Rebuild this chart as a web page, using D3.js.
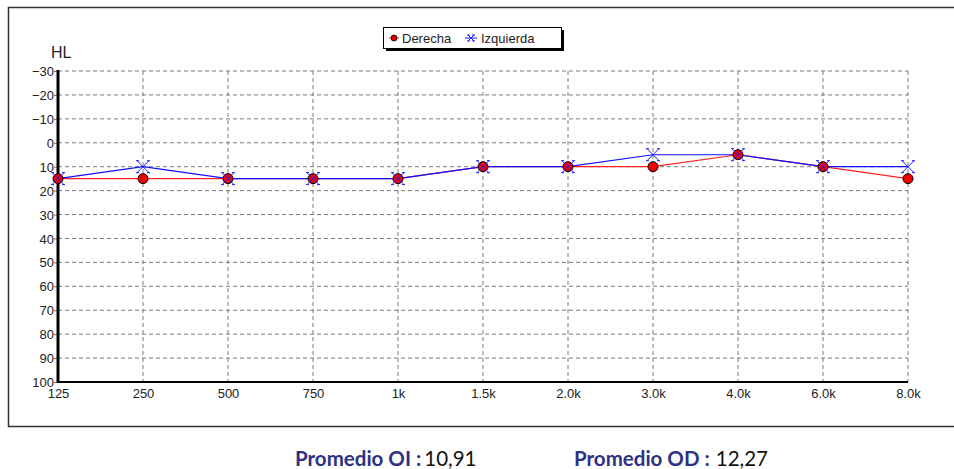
<!DOCTYPE html>
<html>
<head>
<meta charset="utf-8">
<script src="https://cdn.jsdelivr.net/npm/d3@7"></script>
<style>
body { margin: 0; background: #fff; }
svg text { font-family: "Liberation Sans", Arial, sans-serif; }
.tick-label { font-size: 13px; fill: #222; }
.footer { font-family: Lato, "Open Sans", sans-serif; font-size: 20.5px; }
</style>
</head>
<body>
<svg id="chart" width="954" height="469"></svg>
<script>
const freqs = ["125", "250", "500", "750", "1k", "1.5k", "2.0k", "3.0k", "4.0k", "6.0k", "8.0k"]
const derecha = [15, 15, 15, 15, 15, 10, 10, 10, 5, 10, 15]
const izquierda = [15, 10, 15, 15, 15, 10, 10, 5, 5, 10, 10]
const yTicks = [-30, -20, -10, 0, 10, 20, 30, 40, 50, 60, 70, 80, 90, 100]

const svg = d3.select("#chart")

// outer frame, runs off the right edge
svg.append("rect")
	.attr("x", 8.5).attr("y", 7.5)
	.attr("width", 960).attr("height", 419)
	.attr("fill", "none").attr("stroke", "#333").attr("stroke-width", 1.5)

let x = d3.scalePoint()
	.domain(freqs)
	.range([58, 908])

let y = d3.scaleLinear()
	.domain([-30, 100])
	.range([71, 382])

// grid
svg.append("g").selectAll("line")
	.data(yTicks)
	.enter()
	.append("line")
		.attr("x1", 58).attr("x2", 908)
		.attr("y1", d => y(d)).attr("y2", d => y(d))
		.attr("stroke", "#7a7a7a").attr("stroke-dasharray", "4,3")

svg.append("g").selectAll("line")
	.data(freqs.slice(1))
	.enter()
	.append("line")
		.attr("x1", d => x(d)).attr("x2", d => x(d))
		.attr("y1", 71).attr("y2", 382)
		.attr("stroke", "#7a7a7a").attr("stroke-dasharray", "4,3")

// axes
let yAxis = d3.axisLeft(y).tickValues(yTicks).tickSizeInner(4).tickSizeOuter(0)
let yG = svg.append("g")
	.attr("transform", "translate(58,0)")
	.call(yAxis)
yG.select(".domain").remove()
yG.selectAll("line").attr("stroke", "#7a7a7a")
yG.selectAll("text").attr("class", "tick-label").attr("x", -4).attr("dy", "0.35em")
	.attr("font-size", null).attr("font-family", null)

let xAxis = d3.axisBottom(x).tickSizeInner(0).tickSizeOuter(0)
let xG = svg.append("g")
	.attr("transform", "translate(0,382)")
	.call(xAxis)
xG.select(".domain").remove()
xG.selectAll("text").attr("class", "tick-label").attr("y", 7).attr("dy", "0.71em")
	.attr("font-size", null).attr("font-family", null)

svg.append("line")
	.attr("x1", 57).attr("x2", 908).attr("y1", 382).attr("y2", 382)
	.attr("stroke", "#000").attr("stroke-width", 2)
svg.append("line")
	.attr("x1", 58).attr("x2", 58).attr("y1", 70).attr("y2", 383)
	.attr("stroke", "#000").attr("stroke-width", 3)

svg.append("text")
	.attr("x", 51).attr("y", 58)
	.attr("font-size", 16).attr("fill", "#222")
	.text("HL")

// lines
let line = d3.line()
	.x((d, i) => x(freqs[i]))
	.y(d => y(d))

svg.append("path")
	.datum(derecha)
	.attr("d", line)
	.attr("fill", "none").attr("stroke", "#ff2020").attr("stroke-width", 1.2)

svg.append("path")
	.datum(izquierda)
	.attr("d", line)
	.attr("fill", "none").attr("stroke", "#1010ff").attr("stroke-width", 1.2)

svg.append("g").selectAll("circle")
	.data(derecha)
	.enter()
	.append("circle")
		.attr("cx", (d, i) => x(freqs[i]))
		.attr("cy", d => y(d))
		.attr("r", 5)
		.attr("fill", "#f00000").attr("stroke", "#000").attr("stroke-width", 1)

function cross(g, cx, cy, s) {
	g.append("path")
		.attr("d", `M${cx - s},${cy - s}L${cx + s},${cy + s}M${cx - s},${cy + s}L${cx + s},${cy - s}`
			+ `M${cx - s - 1},${cy - s}L${cx - s + 2},${cy - s}M${cx + s - 2},${cy - s}L${cx + s + 1},${cy - s}`
			+ `M${cx - s - 1},${cy + s}L${cx - s + 2},${cy + s}M${cx + s - 2},${cy + s}L${cx + s + 1},${cy + s}`)
		.attr("stroke", "#1a1aff").attr("stroke-width", 1).attr("fill", "none")
}

let marks = svg.append("g")
izquierda.forEach((d, i) => cross(marks, x(freqs[i]), y(d), 6))

// legend
let leg = svg.append("g")
leg.append("rect").attr("x", 386).attr("y", 30).attr("width", 178).attr("height", 21).attr("fill", "#000")
leg.append("rect").attr("x", 383.5).attr("y", 27.5).attr("width", 178).attr("height", 21)
	.attr("fill", "#fff").attr("stroke", "#000").attr("stroke-width", 1)
leg.append("line").attr("x1", 389).attr("x2", 399).attr("y1", 38).attr("y2", 38).attr("stroke", "#ff2020")
leg.append("circle").attr("cx", 394).attr("cy", 38).attr("r", 3)
	.attr("fill", "#e00000").attr("stroke", "#000").attr("stroke-width", 0.8)
leg.append("text").attr("x", 402).attr("y", 43).attr("font-size", 13).attr("fill", "#222").text("Derecha")
leg.append("line").attr("x1", 465).attr("x2", 477).attr("y1", 38).attr("y2", 38).attr("stroke", "#1010ff")
cross(leg, 471, 38, 3)
leg.append("text").attr("x", 481).attr("y", 43).attr("font-size", 13).attr("fill", "#222").text("Izquierda")

// footer
let f1 = svg.append("text").attr("class", "footer").attr("x", 295).attr("y", 466)
f1.append("tspan").attr("font-weight", "bold").attr("fill", "#2e3184").text("Promedio OI :")
f1.append("tspan").attr("fill", "#111").attr("dx", 3).text("10,91")

let f2 = svg.append("text").attr("class", "footer").attr("x", 574).attr("y", 466)
f2.append("tspan").attr("font-weight", "bold").attr("fill", "#2e3184").text("Promedio OD :")
f2.append("tspan").attr("fill", "#111").attr("dx", 6).text("12,27")
</script>
</body>
</html>
